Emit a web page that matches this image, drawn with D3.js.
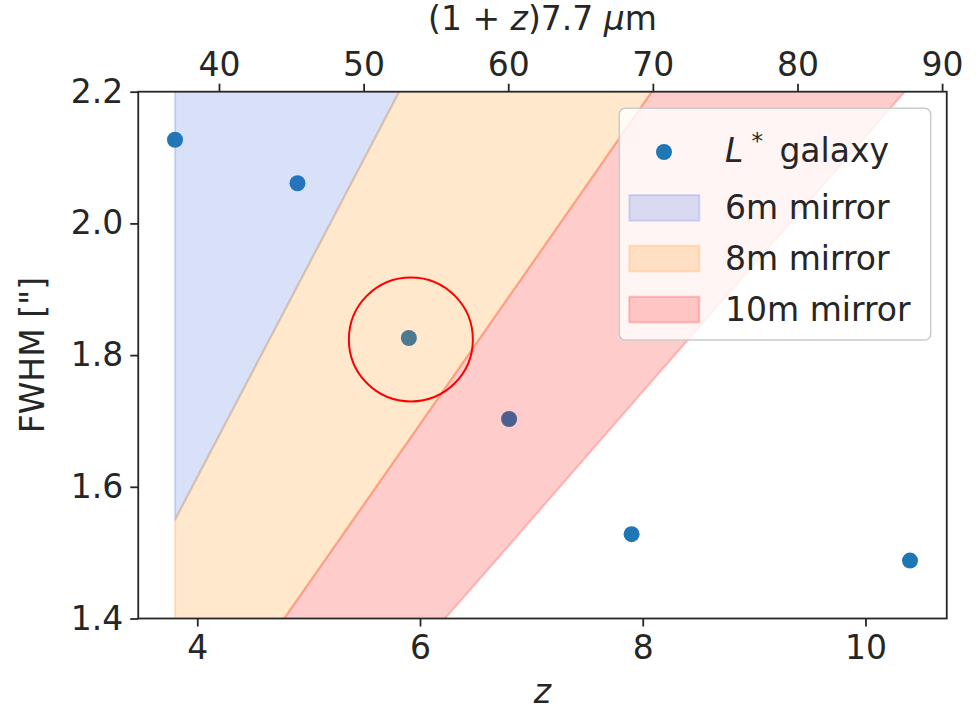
<!DOCTYPE html>
<html>
<head>
<meta charset="utf-8">
<script src="https://cdn.jsdelivr.net/npm/d3@7"></script>
<style>
  html, body { margin: 0; padding: 0; background: #ffffff; }
  svg { display: block; }
  text { font-family: "DejaVu Sans", sans-serif; fill: #262626; }
</style>
</head>
<body>
<svg id="chart" width="977" height="711"></svg>
<script>
// Redshift of each L* galaxy and its FWHM in arcsec
const zValues = [3.8, 4.9, 5.9, 6.8, 7.9, 10.4];
const fwhmValues = [2.127, 2.061, 1.826, 1.703, 1.528, 1.488];

// Diffraction-limited FWHM at each redshift for the three mirror sizes
const limit6m = [1.550, 1.905, 2.228, 2.519, 2.874, 3.682];
const limit8m = [1.163, 1.429, 1.671, 1.889, 2.156, 2.761];
const limit10m = [0.930, 1.143, 1.337, 1.511, 1.725, 2.209];
const ceiling = [2.4, 2.4, 2.4, 2.4, 2.4, 2.4];

const bandLabels = ["6m mirror", "8m mirror", "10m mirror"];
const bandColors = ["royalblue", "darkorange", "red"];

// Axis ticks
const zTicks = [4, 6, 8, 10];
const waveTicks = [40, 50, 60, 70, 80, 90];
const fwhmTicks = [1.4, 1.6, 1.8, 2.0, 2.2];
const fwhmDomain = [1.4, 2.2];
const restWavelength = 7.7;   // micron

const highlightIndex = 2;

const svg = d3.select("#chart");
const plot = { left: 138.25, right: 946.75, top: 91.7, bottom: 618.5 };
const fontSize = 33;

// Scales: x gets matplotlib-style 5% margins around the data
const zMin = d3.min(zValues), zMax = d3.max(zValues);
const pad = 0.05 * (zMax - zMin);
const x = d3.scaleLinear().domain([zMin - pad, zMax + pad]).range([plot.left, plot.right]);
const xTop = d3.scaleLinear()
  .domain(x.domain().map(z => (1 + z) * restWavelength))
  .range([plot.left, plot.right]);
const y = d3.scaleLinear().domain(fwhmDomain).range([plot.bottom, plot.top]);

// Clip
svg.append("defs").append("clipPath").attr("id", "plotClip")
  .append("rect")
  .attr("x", plot.left).attr("y", plot.top)
  .attr("width", plot.right - plot.left).attr("height", plot.bottom - plot.top);

const inner = svg.append("g").attr("clip-path", "url(#plotClip)");

// Scatter points (drawn first, bands sit on top of them)
inner.selectAll("circle.pt")
  .data(zValues)
  .join("circle")
  .attr("class", "pt")
  .attr("cx", d => x(d))
  .attr("cy", (d, i) => y(fwhmValues[i]))
  .attr("r", 8)
  .attr("fill", "#1f77b4");

// Bands between successive diffraction limits
const bands = [
  { lower: limit6m, upper: ceiling },
  { lower: limit8m, upper: limit6m },
  { lower: limit10m, upper: limit8m }
];
bands.forEach((b, k) => {
  const area = d3.area()
    .x((d, i) => x(zValues[i]))
    .y0((d, i) => y(b.lower[i]))
    .y1((d, i) => y(b.upper[i]));
  inner.append("path")
    .datum(zValues)
    .attr("d", area)
    .attr("fill", bandColors[k])
    .attr("fill-opacity", 0.2)
    .attr("stroke", bandColors[k])
    .attr("stroke-opacity", 0.2)
    .attr("stroke-width", 2.2)
    .attr("stroke-linejoin", "round");
});

// Red ring around the highlighted galaxy
svg.append("circle")
  .attr("cx", x(zValues[highlightIndex]) + 2)
  .attr("cy", y(fwhmValues[highlightIndex]) + 1.5)
  .attr("r", 62)
  .attr("fill", "none")
  .attr("stroke", "red")
  .attr("stroke-width", 2);

// Axes
function styleAxis(g) {
  g.select(".domain").remove();
  g.selectAll(".tick line").attr("stroke", "#262626").attr("stroke-width", 1.8);
  g.selectAll(".tick text")
    .attr("font-size", fontSize)
    .attr("font-family", "DejaVu Sans")
    .attr("fill", "#262626");
}

svg.append("g")
  .attr("transform", `translate(0,${plot.bottom})`)
  .call(d3.axisBottom(x).tickValues(zTicks).tickFormat(d3.format("d")).tickSize(8).tickPadding(9))
  .call(styleAxis);

svg.append("g")
  .attr("transform", `translate(0,${plot.top})`)
  .call(d3.axisTop(xTop).tickValues(waveTicks).tickFormat(d3.format("d")).tickSize(8).tickPadding(8))
  .call(styleAxis);

svg.append("g")
  .attr("transform", `translate(${plot.left},0)`)
  .call(d3.axisLeft(y).tickValues(fwhmTicks).tickFormat(d3.format(".1f")).tickSize(8).tickPadding(7))
  .call(styleAxis);

// Frame
svg.append("rect")
  .attr("x", plot.left).attr("y", plot.top)
  .attr("width", plot.right - plot.left).attr("height", plot.bottom - plot.top)
  .attr("fill", "none").attr("stroke", "#262626").attr("stroke-width", 1.8);

// Axis titles
const cx = (plot.left + plot.right) / 2;
svg.append("text")
  .attr("x", cx).attr("y", 703)
  .attr("text-anchor", "middle")
  .attr("font-size", fontSize)
  .attr("font-style", "italic")
  .text("z");

const topTitle = svg.append("text")
  .attr("x", cx).attr("y", 30)
  .attr("text-anchor", "middle")
  .attr("font-size", fontSize);
topTitle.append("tspan").text("(1 + ");
topTitle.append("tspan").attr("font-style", "italic").text("z");
topTitle.append("tspan").text(")7.7 ");
topTitle.append("tspan").attr("font-style", "italic").text("μ");
topTitle.append("tspan").text("m");

svg.append("text")
  .attr("transform", `translate(44,${(plot.top + plot.bottom) / 2}) rotate(-90)`)
  .attr("text-anchor", "middle")
  .attr("font-size", fontSize)
  .text("FWHM [\"]");

// Legend
const legend = svg.append("g");
legend.append("rect")
  .attr("x", 619.3).attr("y", 108.3)
  .attr("width", 311.4).attr("height", 231.7)
  .attr("rx", 6)
  .attr("fill", "white").attr("fill-opacity", 0.8)
  .attr("stroke", "#cccccc").attr("stroke-width", 1.5);

legend.append("circle")
  .attr("cx", 664).attr("cy", 152).attr("r", 8)
  .attr("fill", "#1f77b4");
const lt = legend.append("text")
  .attr("x", 725).attr("y", 162)
  .attr("font-size", fontSize);
lt.append("tspan").attr("font-style", "italic").text("L");
lt.append("tspan").attr("font-size", fontSize * 0.7).attr("dy", -13).attr("dx", 8).text("*");
lt.append("tspan").attr("dy", 13).attr("dx", 6).text(" galaxy");

const rowTop = [195, 245.7, 296.7];
bandLabels.forEach((lab, k) => {
  legend.append("rect")
    .attr("x", 629.3).attr("y", rowTop[k])
    .attr("width", 70).attr("height", 25.7)
    .attr("fill", bandColors[k]).attr("fill-opacity", 0.2)
    .attr("stroke", bandColors[k]).attr("stroke-opacity", 0.2)
    .attr("stroke-width", 2);
  legend.append("text")
    .attr("x", 725).attr("y", rowTop[k] + 24)
    .attr("font-size", fontSize)
    .text(lab);
});
</script>
</body>
</html>
